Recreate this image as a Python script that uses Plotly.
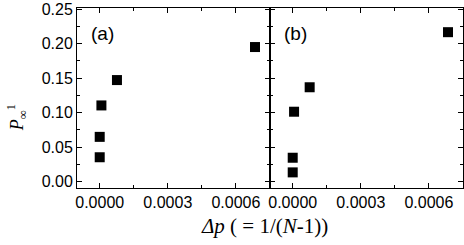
import plotly.graph_objects as go

# Panel (a)
xa = [0.0, 0.0, 0.0000075, 0.000076, 0.000684]
ya = [0.0355, 0.065, 0.1105, 0.1472, 0.1950]
# Panel (b)
xb = [0.0, 0.0, 0.000006, 0.0000747, 0.000684]
yb = [0.0136, 0.0348, 0.1014, 0.1368, 0.2165]

xtick_vals = [0.0, 0.0003, 0.0006]
ytick_vals = [0.0, 0.05, 0.10, 0.15, 0.20, 0.25]
panel_labels = ["(a)", "(b)"]
x_title = "<i>Δp</i> ( = 1/(<i>N</i>-1))"
y_title = "<i>P</i><sub>∞</sub><sup>1</sup>"

fig = go.Figure()
mk = dict(symbol="square", size=10, color="black", line=dict(width=0))
fig.add_trace(go.Scatter(x=xa, y=ya, mode="markers", marker=mk, xaxis="x", yaxis="y", showlegend=False))
fig.add_trace(go.Scatter(x=xb, y=yb, mode="markers", marker=mk, xaxis="x2", yaxis="y2", showlegend=False))

tickfont = dict(family="Liberation Sans, Arial, sans-serif", size=16, color="black")
xcommon = dict(range=[-0.0001, 0.00075], tickvals=xtick_vals, tickformat=".4f",
               showline=True, linecolor="black", linewidth=1, mirror="ticks",
               ticks="inside", ticklen=5, tickcolor="black", showgrid=False, zeroline=False,
               tickfont=tickfont, automargin=False,
               minor=dict(ticks="inside", ticklen=3, dtick=0.00015, tick0=0, tickcolor="black", showgrid=False))
ycommon = dict(range=[-0.009, 0.2515], tickvals=ytick_vals, tickformat=".2f",
               showline=True, linecolor="black", linewidth=1, mirror="ticks",
               ticks="inside", ticklen=5, tickcolor="black", showgrid=False, zeroline=False,
               tickfont=tickfont, automargin=False,
               minor=dict(ticks="inside", ticklen=3, dtick=0.025, tick0=0, tickcolor="black", showgrid=False))

fig.update_layout(
    width=464, height=245,
    margin=dict(l=77, r=1, t=8, b=57, autoexpand=False),
    plot_bgcolor="white", paper_bgcolor="white",
    xaxis=dict(domain=[0, 0.5], anchor="y", **xcommon),
    xaxis2=dict(domain=[0.5, 1], anchor="y2", **xcommon),
    yaxis=dict(domain=[0, 1], anchor="x", **ycommon),
    yaxis2=dict(domain=[0, 1], anchor="x2", showticklabels=False, **ycommon),
)

anns = [
    dict(text=panel_labels[0], x=0.065, y=0.861),
    dict(text=panel_labels[1], x=0.567, y=0.861),
]
for a in anns:
    fig.add_annotation(xref="paper", yref="paper", xanchor="center", yanchor="middle",
                       showarrow=False, font=dict(family="Liberation Sans, Arial", size=19, color="black"), **a)

fig.add_annotation(xref="paper", yref="paper", x=0.487, y=-0.211, text=x_title,
                   showarrow=False, xanchor="center", yanchor="middle",
                   font=dict(family="Liberation Serif, Times New Roman, serif", size=21, color="black"))
fig.add_annotation(xref="paper", yref="paper", x=-0.155, y=0.389, text=y_title,
                   showarrow=False, xanchor="center", yanchor="middle", textangle=-90,
                   font=dict(family="Liberation Serif, Times New Roman, serif", size=18, color="black"))

fig.write_html("out.html", config={"displayModeBar": False},
               post_script="document.body.style.margin='0';document.body.style.overflow='hidden';")
